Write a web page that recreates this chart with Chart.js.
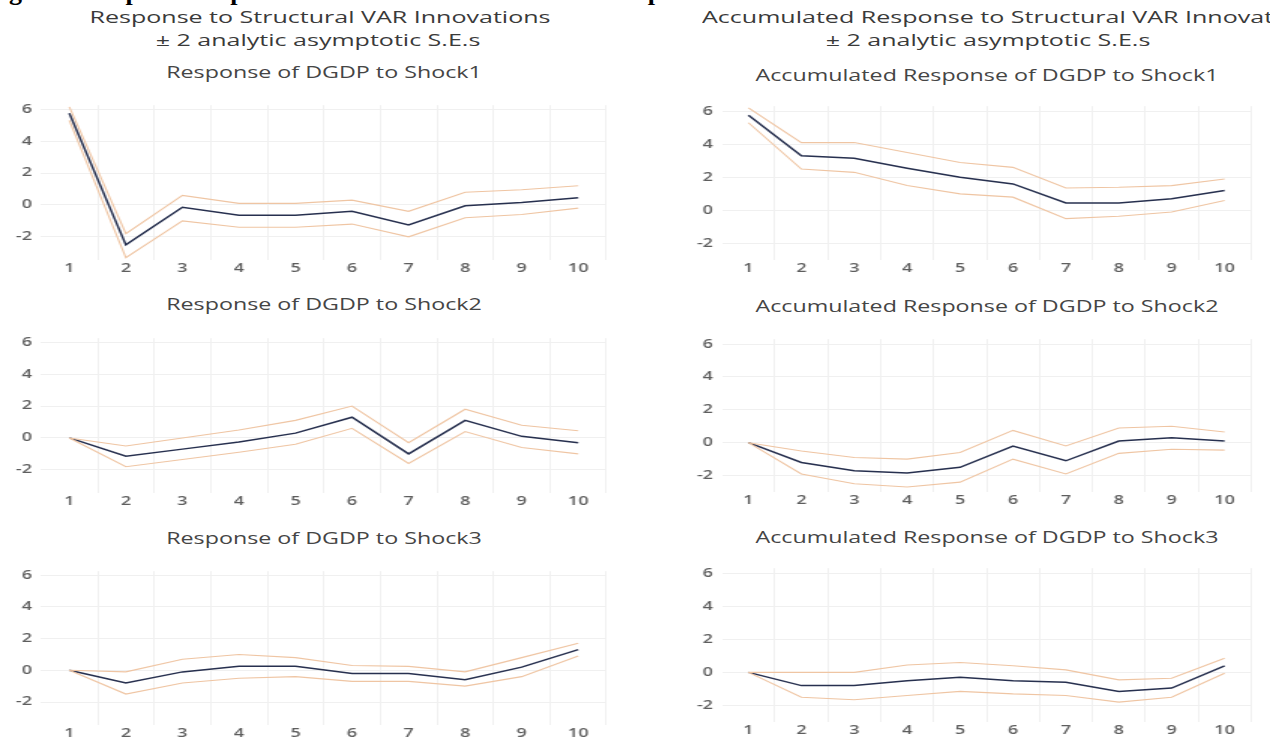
<!DOCTYPE html>
<html><head><meta charset="utf-8">
<script src="https://cdn.jsdelivr.net/npm/chart.js@4.4.1/dist/chart.umd.min.js"></script>
<style>
html,body{margin:0;padding:0;background:#fff}
body{width:1270px;height:742px;overflow:hidden;position:relative;font-family:"Open Sans",sans-serif}
.hdr{position:absolute;color:#3a3a3a;font-size:16.7px;line-height:1;white-space:nowrap;transform:translateX(-50%) scaleX(1.5);transform-origin:center center}
.hdrL{position:absolute;color:#3a3a3a;font-size:16.7px;line-height:1;white-space:nowrap;transform:scaleX(1.5);transform-origin:left center}
.ptitle{position:absolute;color:#454545;font-size:15.5px;line-height:1;white-space:nowrap;transform:translateX(-50%) scaleX(1.5);transform-origin:center center}
.fig{position:absolute;left:-14px;top:-23px;font-family:"Liberation Serif",serif;font-weight:bold;font-size:26px;line-height:1.15;color:#000;white-space:nowrap}
canvas{position:absolute}
</style></head><body>
<div class="fig">Figure 4: Impulse Response Function and Accumulated Response</div>
<div class="hdr" style="left:320px;top:8.5px">Response to Structural VAR Innovations</div>
<div class="hdr" style="left:318px;top:31.5px">± 2 analytic asymptotic S.E.s</div>
<div class="hdrL" style="left:702px;top:8.5px">Accumulated Response to Structural VAR Innovations</div>
<div class="hdr" style="left:988px;top:31.5px">± 2 analytic asymptotic S.E.s</div>
<div class="ptitle" id="t1"></div><div class="ptitle" id="t2"></div><div class="ptitle" id="t3"></div>
<div class="ptitle" id="t4"></div><div class="ptitle" id="t5"></div><div class="ptitle" id="t6"></div>
<canvas id="c1"></canvas><canvas id="c2"></canvas><canvas id="c3"></canvas>
<canvas id="c4"></canvas><canvas id="c5"></canvas><canvas id="c6"></canvas>
<script>
// ---- data ----
const periods = ['1','2','3','4','5','6','7','8','9','10'];
const yTickValues = [-2, 0, 2, 4, 6];

const titleShock1 = 'Response of DGDP to Shock1';
const titleShock2 = 'Response of DGDP to Shock2';
const titleShock3 = 'Response of DGDP to Shock3';
const titleAccShock1 = 'Accumulated Response of DGDP to Shock1';
const titleAccShock2 = 'Accumulated Response of DGDP to Shock2';
const titleAccShock3 = 'Accumulated Response of DGDP to Shock3';

const resp1 = [5.75, -2.5, -0.15, -0.65, -0.65, -0.4, -1.25, -0.05, 0.15, 0.45];
const resp1Upper = [6.15, -1.8, 0.6, 0.1, 0.1, 0.3, -0.4, 0.8, 0.95, 1.2];
const resp1Lower = [5.3, -3.3, -1.0, -1.4, -1.4, -1.2, -2.0, -0.8, -0.6, -0.2];

const resp2 = [0, -1.15, -0.7, -0.25, 0.3, 1.3, -1.0, 1.1, 0.1, -0.3];
const resp2Upper = [0, -0.5, 0.0, 0.5, 1.1, 2.0, -0.3, 1.8, 0.8, 0.45];
const resp2Lower = [0, -1.8, -1.35, -0.9, -0.4, 0.6, -1.6, 0.4, -0.6, -1.0];

const resp3 = [0, -0.8, -0.1, 0.25, 0.25, -0.2, -0.2, -0.6, 0.2, 1.3];
const resp3Upper = [0, -0.1, 0.7, 1.0, 0.8, 0.3, 0.25, -0.1, 0.8, 1.7];
const resp3Lower = [0, -1.5, -0.8, -0.5, -0.4, -0.7, -0.7, -1.0, -0.4, 0.9];

const acc1 = [5.75, 3.3, 3.15, 2.55, 2.0, 1.6, 0.45, 0.45, 0.7, 1.2];
const acc1Upper = [6.2, 4.1, 4.1, 3.5, 2.9, 2.6, 1.35, 1.4, 1.5, 1.9];
const acc1Lower = [5.3, 2.5, 2.3, 1.5, 1.0, 0.8, -0.5, -0.35, -0.1, 0.6];

const acc2 = [0, -1.2, -1.7, -1.85, -1.5, -0.2, -1.1, 0.1, 0.3, 0.1];
const acc2Upper = [0, -0.5, -0.9, -1.0, -0.6, 0.75, -0.2, 0.9, 1.0, 0.65];
const acc2Lower = [0, -1.9, -2.5, -2.7, -2.4, -1.0, -1.9, -0.65, -0.4, -0.45];

const acc3 = [0, -0.8, -0.8, -0.5, -0.3, -0.5, -0.6, -1.15, -0.95, 0.4];
const acc3Upper = [0, 0.0, 0.0, 0.45, 0.6, 0.4, 0.15, -0.45, -0.35, 0.85];
const acc3Lower = [0, -1.5, -1.65, -1.4, -1.15, -1.3, -1.4, -1.8, -1.5, -0.05];

// ---- drawing ----
const S = 1.5;               // horizontal stretch of the reference picture
const CENTER_COLOR = '#27304f';
const BAND_COLOR = '#efc5a3';
const GRID_COLOR = '#f0f0f0';
const TICK_COLOR = '#5e5e5e';

function panel(id, tid, g, title, center, upper, lower, yMin, yMax) {
  const t = document.getElementById(tid);
  t.textContent = title;
  t.style.left = ((g.areaLeft + g.areaRight) / 2) + 'px';
  t.style.top = (g.titleY - 8) + 'px';

  const el = document.getElementById(id);
  const padTop = 8, xAxisH = 22;
  const top = g.areaTop - padTop;
  const h = Math.round(g.areaBottom + xAxisH - top);
  const wA = Math.round(g.width / S);
  el.width = wA; el.height = h;
  el.style.width = (wA * S) + 'px';
  el.style.height = h + 'px';
  el.style.left = g.left + 'px';
  el.style.top = top + 'px';
  const areaL = (g.areaLeft - g.left) / S;
  const areaR = (g.areaRight - g.left) / S;
  const labelR = (g.labelRight - g.left) / S;
  const yw = 24;
  const padL = areaL - yw;
  const padR = wA - areaR;
  const tickFont = {family: 'Open Sans', size: 12, weight: '600'};
  const ds = (d, c, w) => ({data: d, borderColor: c, borderWidth: w, pointRadius: 0, fill: false, tension: 0});
  new Chart(el, {
    type: 'line',
    data: {labels: periods, datasets: [ds(upper, BAND_COLOR, 1.1), ds(lower, BAND_COLOR, 1.1), ds(center, CENTER_COLOR, 1.5)]},
    options: {
      responsive: false, animation: false, events: [],
      layout: {padding: {left: padL, right: padR, top: padTop, bottom: 0}},
      plugins: {legend: {display: false}, tooltip: {enabled: false}, title: {display: false}},
      scales: {
        x: {offset: true,
            grid: {offset: true, drawTicks: false,
                   color: c => (c.index === 0 ? 'rgba(0,0,0,0)' : GRID_COLOR)},
            border: {display: false},
            ticks: {color: TICK_COLOR, font: tickFont, padding: 1, maxRotation: 0, autoSkip: false},
            afterFit: s => { s.height = xAxisH; }},
        y: {min: yMin, max: yMax,
            afterBuildTicks: s => { s.ticks = yTickValues.map(v => ({value: v})); },
            grid: {color: GRID_COLOR, drawTicks: false},
            border: {display: false},
            ticks: {color: TICK_COLOR, font: tickFont, padding: areaL - labelR},
            afterFit: s => { s.width = yw; }}
      }
    }
  });
}

const L = {left: 0, width: 640, areaLeft: 41, areaRight: 606, labelRight: 32};
const R = {left: 640, width: 630, areaLeft: 722, areaRight: 1251, labelRight: 713};
panel('c1', 't1', {...L, titleY: 73, areaTop: 100, areaBottom: 260}, titleShock1, resp1, resp1Upper, resp1Lower, -3.45, 6.25);
panel('c2', 't2', {...L, titleY: 305, areaTop: 333, areaBottom: 493}, titleShock2, resp2, resp2Upper, resp2Lower, -3.45, 6.25);
panel('c3', 't3', {...L, titleY: 539, areaTop: 566, areaBottom: 725}, titleShock3, resp3, resp3Upper, resp3Lower, -3.45, 6.25);
panel('c4', 't4', {...R, titleY: 76, areaTop: 101, areaBottom: 260}, titleAccShock1, acc1, acc1Upper, acc1Lower, -3.0, 6.3);
panel('c5', 't5', {...R, titleY: 307, areaTop: 334, areaBottom: 492}, titleAccShock2, acc2, acc2Upper, acc2Lower, -3.0, 6.3);
panel('c6', 't6', {...R, titleY: 538, areaTop: 563, areaBottom: 722}, titleAccShock3, acc3, acc3Upper, acc3Lower, -3.0, 6.3);
</script>
</body></html>
